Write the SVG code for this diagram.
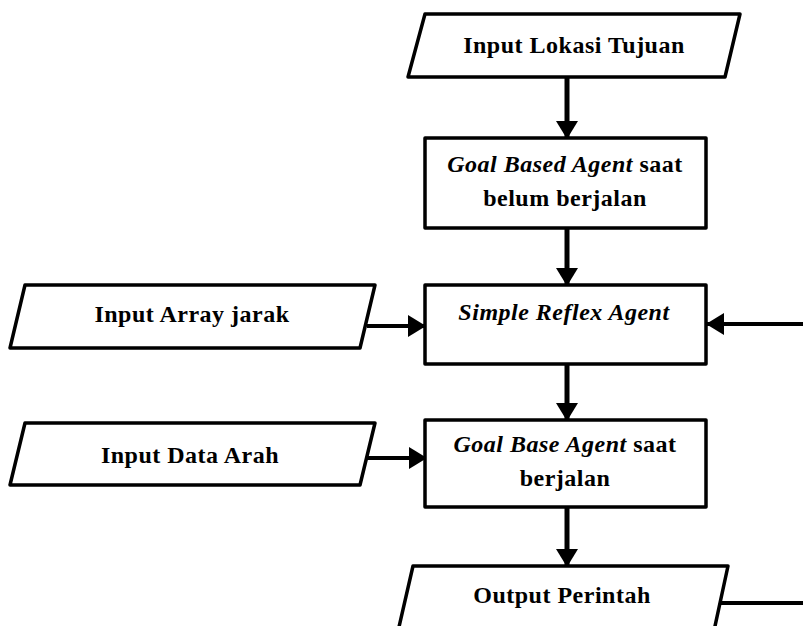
<svg xmlns="http://www.w3.org/2000/svg" width="803" height="626" viewBox="0 0 803 626">
<style>
.shape{fill:#fff;stroke:#000;stroke-width:3.5;stroke-linejoin:round}
.t{font-family:"Liberation Serif","Times New Roman",serif;font-weight:bold;font-size:24px;fill:#000;text-anchor:middle;letter-spacing:0.5px}
.i{font-style:italic}
.c{stroke:#000;stroke-width:5;fill:none}
.cl{stroke:#000;stroke-width:4;fill:none}
</style>
<defs>
<marker id="ah" viewBox="0 0 18 22" refX="17" refY="11" markerWidth="18" markerHeight="22" markerUnits="userSpaceOnUse" orient="auto">
<path d="M0,0 L18,11 L0,22 z" fill="#000"/>
</marker>
</defs>
<rect width="803" height="626" fill="#fff"/>
<g id="connectors">
<line class="c" x1="567" y1="78" x2="567" y2="138" marker-end="url(#ah)"/>
<line class="c" x1="567" y1="229" x2="567" y2="285" marker-end="url(#ah)"/>
<line class="c" x1="567" y1="365" x2="567" y2="420" marker-end="url(#ah)"/>
<line class="c" x1="567" y1="508" x2="567" y2="566" marker-end="url(#ah)"/>
<line class="cl" x1="367" y1="326" x2="425" y2="326" marker-end="url(#ah)"/>
<line class="cl" x1="365" y1="458" x2="426" y2="458" marker-end="url(#ah)"/>
<line class="cl" x1="803" y1="324" x2="707" y2="324" marker-end="url(#ah)"/>
<line class="cl" x1="719" y1="603" x2="803" y2="603"/>
</g>
<g id="input-lokasi">
<polygon class="shape" points="425,14 740,14 725,77 408,77"/>
<text class="t" x="574" y="53">Input Lokasi Tujuan</text>
</g>
<g id="goal-based-belum">
<rect class="shape" x="425" y="138" width="281" height="90"/>
<text class="t" x="565" y="172"><tspan class="i">Goal Based Agent</tspan> saat</text>
<text class="t" x="565" y="206">belum berjalan</text>
</g>
<g id="input-array">
<polygon class="shape" points="25,285 375,285 360,348 10,348"/>
<text class="t" x="192" y="322">Input Array jarak</text>
</g>
<g id="simple-reflex">
<rect class="shape" x="425" y="285" width="281" height="79"/>
<text class="t i" x="564" y="320">Simple Reflex Agent</text>
</g>
<g id="input-data-arah">
<polygon class="shape" points="25,423 375,423 360,485 10,485"/>
<text class="t" x="190" y="463">Input Data Arah</text>
</g>
<g id="goal-base-berjalan">
<rect class="shape" x="425" y="420" width="281" height="87"/>
<text class="t" x="565" y="452"><tspan class="i">Goal Base Agent</tspan> saat</text>
<text class="t" x="565" y="486">berjalan</text>
</g>
<g id="output-perintah">
<polygon class="shape" points="413,566 728,566 712,640 396,640"/>
<text class="t" x="562" y="603">Output Perintah</text>
</g>
</svg>
